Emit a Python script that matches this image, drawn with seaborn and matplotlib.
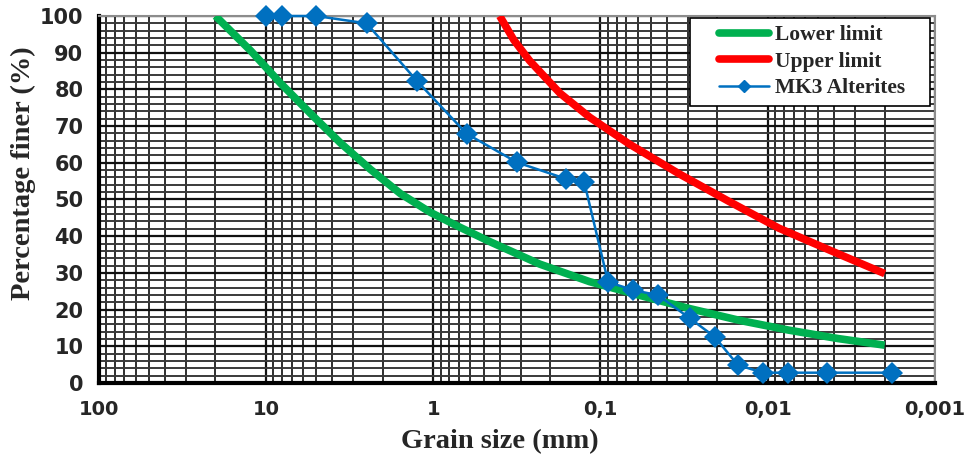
import numpy as np
import pandas as pd
import matplotlib
matplotlib.use("Agg")
import matplotlib.pyplot as plt
import matplotlib.ticker as mticker
from matplotlib.lines import Line2D
from matplotlib.legend_handler import HandlerLine2D
import seaborn as sns

# ---- data ----
lower_size = [20, 12.3, 8.14, 5.4, 3.58, 2.37, 1.57, 1.04, 0.69, 0.458, 0.231,
              0.116, 0.0586, 0.0295, 0.0149, 0.0075, 0.0038, 0.002]
lower_pct = [100, 90.5, 81.6, 73.4, 65.4, 58.2, 51.6, 46.5, 42.4, 38.5, 32.4,
             27.6, 23.9, 20.3, 17.1, 14.4, 12.1, 10.3]

upper_size = [0.4, 0.33, 0.265, 0.175, 0.116, 0.0672, 0.0339, 0.0171, 0.0086, 0.0038, 0.002]
upper_pct = [100, 93.5, 87.8, 79.0, 72.4, 65.1, 57.0, 49.5, 42.2, 35.2, 29.8]

mk3_size = [10, 8, 5, 2.5, 1.25, 0.63, 0.315, 0.16, 0.125, 0.09, 0.0636,
            0.0452, 0.0292, 0.0208, 0.0151, 0.0107, 0.0076, 0.0044, 0.0018]
mk3_pct = [100, 100, 100, 98, 82.3, 67.9, 60.1, 55.6, 54.7, 27.5, 25.3,
           23.9, 17.6, 12.6, 4.9, 2.8, 2.8, 2.8, 2.8]

x_ticks = [100, 10, 1, 0.1, 0.01, 0.001]
x_ticklabels = ["100", "10", "1", "0,1", "0,01", "0,001"]
y_ticks = list(range(0, 101, 10))

series_names = ["Lower limit", "Upper limit", "MK3 Alterites"]
colors = {"Lower limit": "#00B050", "Upper limit": "#FF0000", "MK3 Alterites": "#0070C0"}

df_lower = pd.DataFrame({"size": lower_size, "pct": lower_pct})
df_upper = pd.DataFrame({"size": upper_size, "pct": upper_pct})
df_mk3 = pd.DataFrame({"size": mk3_size, "pct": mk3_pct})

sns.set_theme(style="white")
plt.rcParams["font.family"] = ["DejaVu Sans"]

fig = plt.figure(figsize=(9.66, 4.57), dpi=100)
ax = fig.add_axes([0.102, 0.162, 0.866, 0.803])

ax.set_xscale("log")
ax.set_xlim(100, 0.001)
ax.set_ylim(0, 100)

# grid
ax.xaxis.set_minor_locator(mticker.LogLocator(base=10, subs=np.arange(2, 10)))
ax.xaxis.set_minor_formatter(mticker.NullFormatter())
ax.yaxis.set_minor_locator(mticker.MultipleLocator(2))
ax.grid(True, which="major", axis="both", color="#111111", linewidth=1.6)
ax.grid(True, which="minor", axis="x", color="#2e2e2e", linewidth=1.4)
ax.grid(True, which="minor", axis="y", color="#3a3a3a", linewidth=1.4)
ax.set_axisbelow(True)

sns.lineplot(data=df_lower, x="size", y="pct", ax=ax, color=colors["Lower limit"],
             linewidth=5.5, sort=False, estimator=None, zorder=3,
             solid_joinstyle="round", solid_capstyle="butt")
sns.lineplot(data=df_upper, x="size", y="pct", ax=ax, color=colors["Upper limit"],
             linewidth=5.5, sort=False, estimator=None, zorder=3,
             solid_joinstyle="round", solid_capstyle="butt")
sns.lineplot(data=df_mk3, x="size", y="pct", ax=ax, color=colors["MK3 Alterites"],
             linewidth=1.8, marker="D", markersize=11, markeredgewidth=0,
             sort=False, estimator=None, zorder=4, clip_on=False)

ax.set_xticks(x_ticks)
ax.set_xticklabels(x_ticklabels)
ax.set_yticks(y_ticks)
ax.tick_params(axis="both", which="major", direction="inout", length=9, width=2.5,
               color="black")
ax.tick_params(axis="x", which="major", labelsize=14, pad=8)
ax.tick_params(axis="y", which="major", labelsize=15, pad=6.5)
ax.tick_params(axis="both", which="minor", length=0)
for lab in ax.get_xticklabels() + ax.get_yticklabels():
    lab.set_fontweight("bold")

for s in ["left", "bottom"]:
    ax.spines[s].set_color("black")
    ax.spines[s].set_linewidth(3)
for s in ["top", "right"]:
    ax.spines[s].set_color("#8c8c8c")
    ax.spines[s].set_linewidth(1.5)

serif = ["Liberation Serif", "DejaVu Serif"]
ax.set_xlabel("Grain size (mm)", fontsize=20.5, fontweight="bold", family=serif)
ax.set_ylabel("Percentage finer (%)", fontsize=20.5, fontweight="bold", family=serif)
ax.xaxis.set_label_coords(0.48, -0.125)
ax.yaxis.set_label_coords(-0.075, 0.572)

handles = [
    Line2D([], [], color=colors["Lower limit"], linewidth=5.5, solid_capstyle="round"),
    Line2D([], [], color=colors["Upper limit"], linewidth=5.5, solid_capstyle="round"),
    Line2D([], [], color=colors["MK3 Alterites"], linewidth=1.8, marker="D", markersize=6),
]
hmap = {h: HandlerLine2D(xpad=1.0) for h in handles}
leg = ax.legend(handles, series_names, loc="upper left",
                bbox_to_anchor=(0.707, 0.0, 0.2875, 0.995), mode="expand",
                prop={"family": serif, "weight": "bold", "size": 15.5},
                frameon=True, fancybox=False, edgecolor="black", framealpha=1,
                handlelength=3.3, handletextpad=0.3, borderpad=0.35, labelspacing=0.3,
                borderaxespad=0, handler_map=hmap)
leg.get_frame().set_linewidth(1.2)
leg.set_zorder(10)

fig.savefig("out.png", dpi=100)
